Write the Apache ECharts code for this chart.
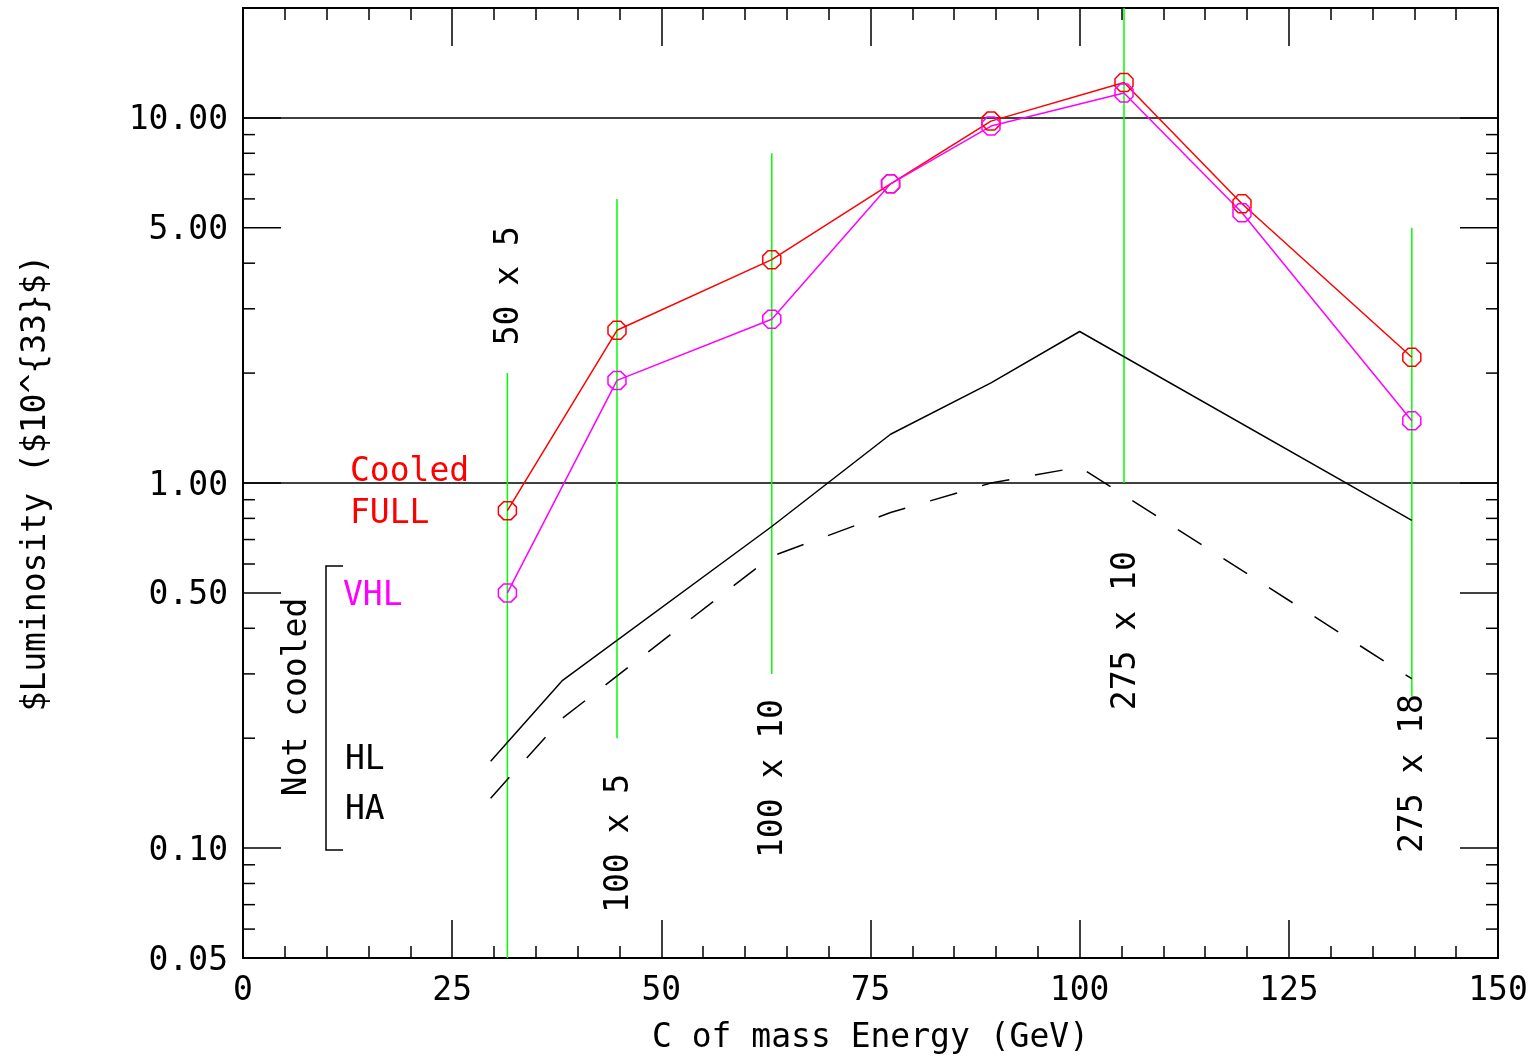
<!DOCTYPE html>
<html>
<head>
<meta charset="utf-8">
<title>Luminosity vs C of mass Energy</title>
<script src="https://cdn.jsdelivr.net/npm/echarts@6/dist/echarts.min.js"></script>
<style>
  html, body { margin: 0; padding: 0; background: #fff; }
  #chart { width: 1535px; height: 1060px; }
</style>
</head>
<body>
<div id="chart"></div>
<script>
// C of mass energy (GeV) of the measured points
const energyPts = [31.6, 44.7, 63.2, 77.4, 89.4, 105.3, 119.4, 139.7];
// Cooled FULL (red)
const cooledFull = [0.84, 2.62, 4.09, 6.6, 9.8, 12.5, 5.82, 2.21];
// VHL (magenta)
const vhl = [0.50, 1.91, 2.81, 6.6, 9.5, 11.7, 5.5, 1.48];

// not cooled curves
const hlEnergy = [29.6, 38.2, 63.2, 77.4, 89.4, 100, 139.7];
const hl = [0.173, 0.288, 0.76, 1.36, 1.88, 2.6, 0.79];
const haEnergy = [29.6, 38.2, 63.2, 77.4, 89.4, 100, 139.7];
const ha = [0.137, 0.227, 0.63, 0.83, 1.0, 1.106, 0.291];

// beam configurations (green markers)
const beamEnergy = [31.6, 44.7, 63.2, 105.3, 139.7];
const beamLow = [0.05, 0.2, 0.3, 1.0, 0.26];
const beamHigh = [2.0, 6.0, 8.0, 20, 5.0];
const beamLabel = ['50 x 5', '100 x 5', '100 x 10', '275 x 10', '275 x 18'];
const beamLabelAt = [3.47, 0.103, 0.155, 0.394, 0.16];

// y axis ticks
const yMajor = [0.05, 0.1, 0.5, 1, 5, 10];
const yMinor = [0.06, 0.07, 0.08, 0.09, 0.2, 0.3, 0.4, 0.6, 0.7, 0.8, 0.9, 2, 3, 4, 6, 7, 8, 9];
const yLines = [1, 10];

const FONT = '"DejaVu Sans Mono", "Liberation Mono", monospace';
const FS = 33;
const OCT = 'path://M7,0 L17,0 L24,7 L24,17 L17,24 L7,24 L0,17 L0,7 Z';

const chart = echarts.init(document.getElementById('chart'));

const pairs = (xs, ys) => xs.map((x, i) => [x, ys[i]]);

const tickData = []
  .concat(yMajor.map(v => [0, v, 1]))
  .concat(yMinor.map(v => [0, v, 0]))
  .concat(yLines.map(v => [0, v, 2]));

const axisX = (pos, showLabel) => ({
  type: 'value',
  position: pos,
  min: 0,
  max: 150,
  interval: 25,
  name: showLabel ? 'C of mass Energy (GeV)' : '',
  nameLocation: 'middle',
  nameGap: 64,
  nameTextStyle: { fontFamily: FONT, fontSize: FS, color: '#000' },
  axisLine: { show: true, lineStyle: { color: '#000', width: 2 } },
  axisTick: { show: true, inside: true, length: 38, lineStyle: { color: '#000', width: 1.5 } },
  minorTick: { show: true, splitNumber: 5, length: 12, lineStyle: { color: '#000', width: 1.5 } },
  axisLabel: { show: showLabel, margin: 17, fontFamily: FONT, fontSize: FS, color: '#000' },
  splitLine: { show: false }
});

const dataLine = (name, data, color, withSymbol, dash) => ({
  name,
  type: 'line',
  data,
  symbol: withSymbol ? OCT : 'none',
  symbolSize: 18,
  itemStyle: { color: 'rgba(0,0,0,0)', borderColor: color, borderWidth: 1.5 },
  lineStyle: { color, width: 1.5, type: dash || 'solid' },
  emphasis: { disabled: true },
  animation: false,
  z: 3
});

const option = {
  backgroundColor: '#fff',
  animation: false,
  grid: { left: 243, right: 37, top: 8, bottom: 100, show: true, borderColor: '#000', borderWidth: 2 },
  xAxis: [axisX('bottom', true), axisX('top', false)],
  yAxis: {
    type: 'log',
    min: 0.05,
    max: 20,
    name: '$Luminosity ($10^{33}$)',
    nameLocation: 'middle',
    nameGap: 190,
    nameTextStyle: { fontFamily: FONT, fontSize: FS, color: '#000' },
    axisLine: { show: true, lineStyle: { color: '#000', width: 2 } },
    axisTick: { show: false },
    axisLabel: { show: false },
    splitLine: { show: false }
  },
  series: [
    {
      // y ticks on both sides, labels and the two reference lines
      type: 'custom',
      data: tickData,
      silent: true,
      z: 1,
      renderItem(params, api) {
        const cs = params.coordSys;
        const v = api.value(1);
        const kind = api.value(2);
        const y = api.coord([0, v])[1];
        const st = { stroke: '#000', lineWidth: 1.5 };
        if (kind === 2) {
          return { type: 'line', shape: { x1: cs.x, y1: y, x2: cs.x + cs.width, y2: y }, style: st };
        }
        const len = kind === 1 ? 38 : 12;
        const children = [
          { type: 'line', shape: { x1: cs.x, y1: y, x2: cs.x + len, y2: y }, style: st },
          { type: 'line', shape: { x1: cs.x + cs.width - len, y1: y, x2: cs.x + cs.width, y2: y }, style: st }
        ];
        if (kind === 1) {
          children.push({
            type: 'text', x: cs.x - 15, y: y + 3,
            style: { text: v.toFixed(2), fill: '#000', font: FS + 'px ' + FONT, align: 'right', verticalAlign: 'middle' }
          });
        }
        return { type: 'group', children };
      }
    },
    {
      // beam configuration markers
      type: 'custom',
      data: beamEnergy.map((x, i) => [x, beamLow[i], beamHigh[i], beamLabelAt[i]]),
      silent: true,
      z: 2,
      renderItem(params, api) {
        const i = params.dataIndex;
        const x = api.value(0);
        const lo = api.coord([x, api.value(1)]);
        const hi = api.coord([x, api.value(2)]);
        const lb = api.coord([x, api.value(3)]);
        return {
          type: 'group',
          children: [
            { type: 'line', shape: { x1: lo[0], y1: lo[1], x2: hi[0], y2: hi[1] }, style: { stroke: '#00ff00', lineWidth: 1.5 } },
            {
              type: 'text', x: lb[0] + 2, y: lb[1], rotation: Math.PI / 2,
              style: { text: beamLabel[i], fill: '#000', font: FS + 'px ' + FONT, align: 'center', verticalAlign: 'middle' }
            }
          ]
        };
      }
    },
    dataLine('Cooled FULL', pairs(energyPts, cooledFull), '#ff0000', true),
    dataLine('VHL', pairs(energyPts, vhl), '#ff00ff', true),
    dataLine('HL', pairs(hlEnergy, hl), '#000', false),
    dataLine('HA', pairs(haEnergy, ha), '#000', false, [28, 26])
  ],
  graphic: [
    { type: 'text', left: 350, top: 456, style: { text: 'Cooled', fill: '#ff0000', font: FS + 'px ' + FONT } },
    { type: 'text', left: 350, top: 498, style: { text: 'FULL', fill: '#ff0000', font: FS + 'px ' + FONT } },
    { type: 'text', left: 343, top: 580, style: { text: 'VHL', fill: '#ff00ff', font: FS + 'px ' + FONT } },
    { type: 'text', left: 345, top: 744, style: { text: 'HL', fill: '#000', font: FS + 'px ' + FONT } },
    { type: 'text', left: 345, top: 794, style: { text: 'HA', fill: '#000', font: FS + 'px ' + FONT } },
    {
      type: 'text', x: 297, y: 697, rotation: Math.PI / 2,
      style: { text: 'Not cooled', fill: '#000', font: FS + 'px ' + FONT, align: 'center', verticalAlign: 'middle' }
    },
    {
      type: 'polyline',
      shape: { points: [[343, 566], [326, 566], [326, 850], [343, 850]] },
      style: { stroke: '#000', lineWidth: 1.5, fill: null }
    }
  ]
};

chart.setOption(option);
</script>
</body>
</html>
